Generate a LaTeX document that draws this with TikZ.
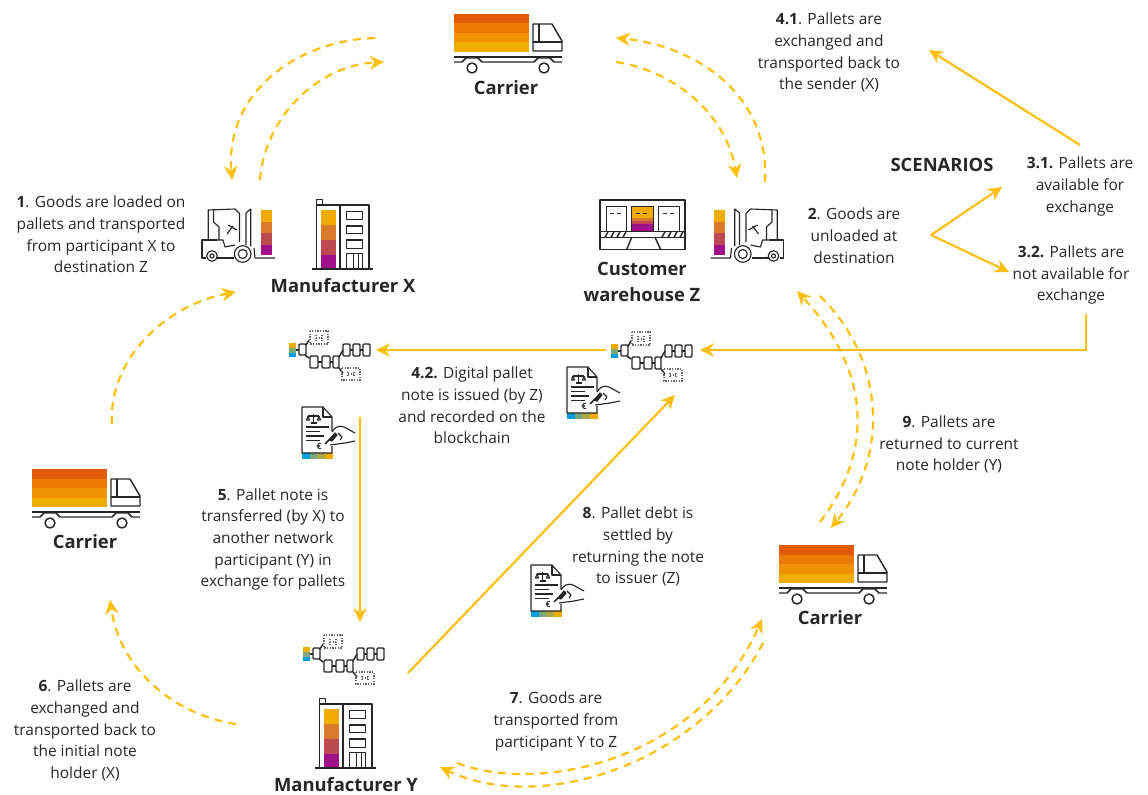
\documentclass[tikz,border=0pt]{standalone}
\usepackage{fontspec}
\setmainfont{Open Sans}
\usetikzlibrary{arrows.meta}
\definecolor{ink}{HTML}{262626}
\definecolor{flow}{HTML}{FFBE0A}
\definecolor{tA}{HTML}{E35A05}
\definecolor{tB}{HTML}{EC7A05}
\definecolor{tC}{HTML}{F09204}
\definecolor{tD}{HTML}{F2AC00}
\definecolor{bA}{HTML}{F0AC00}
\definecolor{bB}{HTML}{D97B2B}
\definecolor{bC}{HTML}{BC4A50}
\definecolor{bD}{HTML}{A0108A}
\definecolor{cA}{HTML}{009FE3}
\definecolor{cB}{HTML}{7AA87A}
\definecolor{cC}{HTML}{ABA84A}
\tikzset{
 x=0.75pt,y=-0.75pt,
 icon/.style={draw=ink,line width=1.1pt,line join=round},
 thin icon/.style={draw=ink,line width=0.85pt,line join=round},
 dotbox/.style={draw=ink!70,line width=1.1pt,dash pattern=on 1pt off 1pt},
 dasharrow/.style={draw=flow,line width=1.6pt,dash pattern=on 6pt off 4.5pt,-{Stealth[length=10.5pt,width=10pt]}},
 flowarrow/.style={draw=flow,line width=1.6pt,-{Stealth[length=10.5pt,width=10pt]}},
 lbl/.style={align=center,text=ink,inner sep=0pt,font=\fontsize{11.6}{16.3}\selectfont},
 head/.style={align=center,text=ink,inner sep=0pt,font=\fontsize{13.8}{20}\selectfont\bfseries},
 truck/.pic={
  \fill[tA] (0,0) rectangle (75,9.5);
  \fill[tB] (0,9.5) rectangle (75,19);
  \fill[tC] (0,19) rectangle (75,28.5);
  \fill[tD] (0,28.5) rectangle (75,38);
  \draw[icon] (79,10)--(98,10)--(108,27)--(108,37)--(79,37)--cycle;
  \draw[icon] (85,10)--(85,28) (79,28)--(108,28);
  \draw[icon] (0,43)--(108,43);
  \draw[icon] (0,48)--(8,48)--(12,44)--(24,44)--(28,48)--(80,48)--(84,44)--(96,44)--(100,48)--(108,48);
  \draw[icon,fill=white] (18,54) circle (5);
  \draw[icon,fill=white] (90,54) circle (5);
 },
 forklift/.pic={
  \fill[bA] (71,20) rectangle (82,31.5);
  \fill[bB] (71,31.5) rectangle (82,43);
  \fill[bC] (71,43) rectangle (82,54.5);
  \fill[bD] (71,54.5) rectangle (82,65);
  \draw[thin icon] (18.3,50)--(18.3,20)--(45,19)--(49.5,23.5)--(49.5,52);
  \draw[thin icon] (23.5,20)--(23.5,32)--(29,37)--(29,50);
  \draw[thin icon] (37,44)--(43,36) (38,35)--(47,40);
  \draw[thin icon] (27,50)--(33,50)--(35,57)--(45,55);
  \draw[thin icon] (16,68)--(12,68)--(12,50)--(27,50);
  \draw[thin icon] (27,68)--(44,68);
  \draw[thin icon,fill=white] (22,66) circle (5.3);
  \draw[thin icon] (22,66) circle (2);
  \draw[thin icon,fill=white] (52.7,64) circle (8.3);
  \draw[thin icon] (52.7,64) circle (4.5);
  \draw[thin icon] (56,55)--(56,23)--(60.7,19)--(60.7,56);
  \draw[thin icon] (64,58)--(65,68)--(85,68);
 },
 building/.pic={
  \fill[bA] (0,0) rectangle (15,15);
  \fill[bB] (0,15) rectangle (15,30);
  \fill[bC] (0,30) rectangle (15,45);
  \fill[bD] (0,45) rectangle (15,60);
  \draw[icon] (-9,59)--(52,59);
  \draw[icon] (-4.3,59)--(-4.3,-10.7)--(1.7,-10.7)--(1.7,-5);
  \draw[icon] (-4.3,-5)--(48,-5)--(48,59);
  \draw[icon] (19,-5)--(19,59);
  \draw[icon] (25.7,1.7) rectangle (41.7,9.3);
  \draw[icon] (25.7,16) rectangle (41.7,23.3);
  \draw[icon] (25.7,30) rectangle (41.7,38.3);
  \draw[icon] (25.7,43.3) rectangle (41.7,59);
  \draw[icon] (32.3,43.3)--(32.3,59) (37.3,43.3)--(37.3,59);
 },
 chain/.pic={
  \fill[bA] (0,0) rectangle (7,5);
  \fill[cB] (0,5) rectangle (7,9.5);
  \fill[cA] (0,9.5) rectangle (7,14);
  \draw[icon] (7,7)--(10,7);
  \draw[icon,rounded corners=0.8pt] (10,1) rectangle (17,12);
  \draw[icon] (17,2)--(20,-3) (16,12)--(20,15);
  \draw[icon,rounded corners=0.8pt] (21,13) rectangle (29,25);
  \draw[icon,rounded corners=0.8pt] (33,13) rectangle (41,25);
  \draw[icon,rounded corners=0.8pt] (44,13) rectangle (50,25);
  \draw[icon] (29,19)--(33,19) (41,19)--(44,19);
  \draw[icon] (50,14)--(54,7) (50,25)--(54,30);
  \draw[icon,rounded corners=0.8pt] (54,1) rectangle (61,13);
  \draw[icon,rounded corners=0.8pt] (64,1) rectangle (71,13);
  \draw[icon,rounded corners=0.8pt] (74,1) rectangle (81,13);
  \draw[icon] (61,7)--(64,7) (71,7)--(74,7);
  \draw[dotbox] (21,-12) rectangle (39,1);
  \draw[dotbox] (27,-8)--(27,-2) (33,-8)--(33,-2) (27,-5)--(33,-5);
  \draw[dotbox] (53,25) rectangle (71,37);
  \draw[dotbox] (59,29)--(59,34) (65,29)--(65,34) (59,31)--(65,31);
 },
 note/.pic={
  \fill[cA] (0,46) rectangle (8,52);
  \fill[cB] (8,46) rectangle (15,52);
  \fill[cC] (15,46) rectangle (23,52);
  \fill[bA] (23,46) rectangle (30.5,52);
  \draw[thin icon] (30,24)--(30,10)--(21,0)--(0,0)--(0,46)--(30,46)--(30,39);
  \draw[thin icon] (21,0)--(21,10)--(30,10);
  \draw[thin icon] (6,9)--(17,9) (11.5,7)--(11.5,16) (8.5,16)--(14.5,16);
  \draw[thin icon] (6,9)--(4.5,13)--(7.5,13)--(6,9) (17,9)--(15.5,13)--(18.5,13)--(17,9);
  \draw[thin icon] (4,20)--(27,20) (4,24.5)--(18,24.5) (4,29)--(22,29) (4,33.5)--(18,33.5);
  \node[inner sep=0pt,font=\fontsize{6.5}{7}\selectfont\bfseries,text=ink] (e) at (17,39) {€};
  \draw[ink,line width=1.3pt] (23,37)--(28,32);
  \draw[thin icon,fill=ink] (27,33)--(33,26)--(35,28)--(30,34)--cycle;
  \draw[thin icon] (30,25) .. controls (33,20) and (37,18) .. (42,20)--(53,26);
  \draw[thin icon] (28,38)--(43,36)--(53,34);
  \draw[thin icon] (36,26)--(40,30)--(38,33);
 },
 depot/.pic={
  \draw[icon] (10,10) rectangle (95,59.5);
  \fill[bA] (41.7,16.7) rectangle (63.3,28);
  \fill[bB] (41.7,28) rectangle (63.3,31);
  \fill[bC] (41.7,31) rectangle (63.3,34);
  \fill[bD] (41.7,34) rectangle (63.3,40.5);
  \draw[icon] (16.7,40.5)--(16.7,16.7)--(36.7,16.7)--(36.7,40.5);
  \draw[icon] (41.7,40.5)--(41.7,16.7)--(63.3,16.7)--(63.3,40.5);
  \draw[icon] (68.3,40.5)--(68.3,16.7)--(89.3,16.7)--(89.3,40.5);
  \draw[icon] (20,23.5)--(24,23.5) (27,23.5)--(31,23.5);
  \draw[icon] (46,23.5)--(50,23.5) (53,23.5)--(57,23.5);
  \draw[icon] (73,23.5)--(77,23.5) (80,23.5)--(84,23.5);
  \draw[icon] (10,41.7)--(95,41.7) (10,47.3)--(95,47.3);
  \foreach \q in {15,21,27,33,72,78,84,90}{\draw[icon] (\q,47.3)--(\q+3,41.7);}
  \draw[icon] (41.7,47.3)--(36.7,59.5) (65,47.3)--(70.7,59.5);
 }
}
\begin{document}
\begin{tikzpicture}
\useasboundingbox (0,0) rectangle (1148,795);
% icons
\pic at (454,14) {truck};
\pic at (32,469) {truck};
\pic at (779,545) {truck};
\pic at (190,190) {forklift};
\begin{scope}[shift={(795.5,190)},xscale=-1]\pic[transform shape] at (0,0) {forklift};\end{scope}
\pic at (321,210) {building};
\pic at (324,709) {building};
\pic at (590,190) {depot};
\pic at (289,343) {chain};
\pic at (611,344) {chain};
\pic at (303,647) {chain};
\pic at (302,407) {note};
\pic at (567,367) {note};
\pic at (531,565) {note};
% connector ends
\coordinate (a1s) at (375,38);   \coordinate (a1e) at (232,180);
\coordinate (a2s) at (260,180);  \coordinate (a2e) at (384,62);
\coordinate (a3s) at (765,182);  \coordinate (a3e) at (616,38);
\coordinate (a4s) at (616,62);   \coordinate (a4e) at (737,178);
\coordinate (a5s) at (112,424);  \coordinate (a5e) at (236,292);
\coordinate (a6s) at (236,724);  \coordinate (a6e) at (110,600);
\coordinate (a7s) at (457,763);  \coordinate (a7e) at (762,619);
\coordinate (a8s) at (763,643);  \coordinate (a8e) at (440,767);
\coordinate (a9s) at (820,522);  \coordinate (a9e) at (797,291);
\coordinate (a10s) at (820,296); \coordinate (a10e) at (831,528);
\coordinate (s1s) at (1080,145); \coordinate (s1e) at (929,50);
\coordinate (fork) at (931,235); \coordinate (s2e) at (1002,187); \coordinate (s3e) at (1009,272);
\coordinate (s4s) at (1086,314); \coordinate (s4c) at (1086,350); \coordinate (s4e) at (700,350);
\coordinate (s5s) at (606,350);  \coordinate (s5e) at (376,350);
\coordinate (s6s) at (360,417);  \coordinate (s6e) at (360,622);
\coordinate (s7s) at (408,673);  \coordinate (s7e) at (675,395);
% dashed connectors
\draw[dasharrow] (a1s) .. controls (300,40) and (225,90) .. (a1e);
\draw[dasharrow] (a2s) .. controls (265,115) and (320,65) .. (a2e);
\draw[dasharrow] (a3s) .. controls (770,90) and (690,45) .. (a3e);
\draw[dasharrow] (a4s) .. controls (670,70) and (725,110) .. (a4e);
\draw[dasharrow] (a5s) .. controls (108,360) and (165,305) .. (a5e);
\draw[dasharrow] (a6s) .. controls (175,715) and (120,670) .. (a6e);
\draw[dasharrow] (a7s) .. controls (540,795) and (700,760) .. (a7e);
\draw[dasharrow] (a8s) .. controls (700,765) and (540,815) .. (a8e);
\draw[dasharrow] (a9s) .. controls (875,450) and (870,370) .. (a9e);
\draw[dasharrow] (a10s) .. controls (885,360) and (890,455) .. (a10e);
% solid connectors
\draw[flowarrow] (s1s) -- (s1e);
\draw[flowarrow] (fork) -- (s2e);
\draw[flowarrow] (fork) -- (s3e);
\draw[flowarrow] (s4s) -- (s4c) -- (s4e);
\draw[flowarrow] (s5s) -- (s5e);
\draw[flowarrow] (s6s) -- (s6e);
\draw[flowarrow] (s7s) -- (s7e);
% headings
\node[head] (c1) at (506,87.5) {Carrier};
\node[head] (c2) at (85,541.5) {Carrier};
\node[head] (c3) at (830,617.5) {Carrier};
\node[head] (mx) at (343,285.5) {Manufacturer X};
\node[head] (my) at (346,785) {Manufacturer Y};
\node[head] (wz) at (642,282) {Customer\\warehouse Z};
\node[head] (sc) at (942,164.5) {SCENARIOS};
% texts
\node[lbl] (t1) at (101,234.5) {\textbf{1}. Goods are loaded on\\pallets and transported\\from participant X to\\destination Z};
\node[lbl] (t2) at (854,235.5) {\textbf{2}. Goods are\\unloaded at\\destination};
\node[lbl] (t31) at (1080,186.5) {\textbf{3.1.} Pallets are\\available for\\exchange};
\node[lbl] (t32) at (1071,275) {\textbf{3.2.} Pallets are\\not available for\\exchange};
\node[lbl] (t41) at (829,52.5) {\textbf{4.1}. Pallets are\\exchanged and\\transported back to\\the sender (X)};
\node[lbl] (t42) at (472,405.5) {\textbf{4.2.} Digital pallet\\note is issued (by Z)\\and recorded on the\\blockchain};
\node[lbl] (t5) at (273,539.5) {\textbf{5}. Pallet note is\\transferred (by X) to\\another network\\participant (Y) in\\exchange for pallets};
\node[lbl] (t6) at (85,730.5) {\textbf{6}. Pallets are\\exchanged and\\transported back to\\the initial note\\holder (X)};
\node[lbl] (t7) at (556,721.5) {\textbf{7}. Goods are\\transported from\\participant Y to Z};
\node[lbl] (t8) at (638,546.5) {\textbf{8}. Pallet debt is\\settled by\\returning the note\\to issuer (Z)};
\node[lbl] (t9) at (949,444.5) {\textbf{9}. Pallets are\\returned to current\\note holder (Y)};
\end{tikzpicture}
\end{document}
